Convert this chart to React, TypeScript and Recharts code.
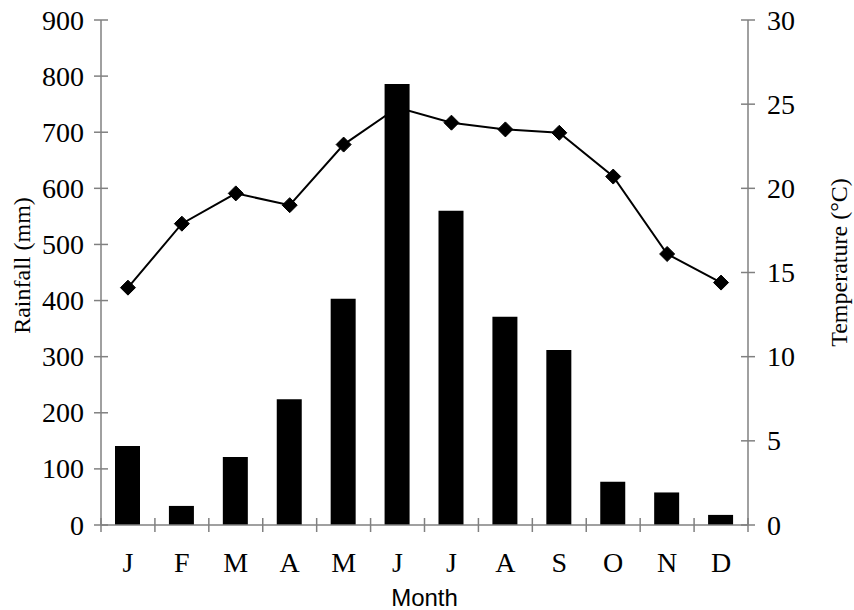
import React from 'react';
import { ComposedChart, Bar, Line, XAxis, YAxis, Label } from 'recharts';

const months = ['J', 'F', 'M', 'A', 'M', 'J', 'J', 'A', 'S', 'O', 'N', 'D'];
const rainfall = [141, 34, 121, 224, 403, 786, 560, 371, 312, 77, 58, 18];
const temperature = [14.1, 17.9, 19.7, 19.0, 22.6, 24.8, 23.9, 23.5, 23.3, 20.7, 16.1, 14.4];
const rainTicks = [0, 100, 200, 300, 400, 500, 600, 700, 800, 900];
const tempTicks = [0, 5, 10, 15, 20, 25, 30];

const data = months.map((m, i) => ({ key: i, month: m, rain: rainfall[i], temp: temperature[i] }));

const AXIS = '#808080';
const SERIF = '"Liberation Serif", "Times New Roman", serif';
const SANS = '"Liberation Sans", Arial, sans-serif';

const LeftTick = (props: any) => {
  const { x, y, payload } = props;
  return (
    <g>
      <line x1={x - 7} x2={x + 7} y1={y} y2={y} stroke={AXIS} strokeWidth={1.5} />
      <text x={x - 17} y={y} dy={9.5} textAnchor="end" fontFamily={SERIF} fontSize={28} fill="#000">
        {payload.value}
      </text>
    </g>
  );
};

const RightTick = (props: any) => {
  const { x, y, payload } = props;
  return (
    <g>
      <line x1={x - 7} x2={x + 7} y1={y} y2={y} stroke={AXIS} strokeWidth={1.5} />
      <text x={x + 19} y={y} dy={9.5} textAnchor="start" fontFamily={SERIF} fontSize={28} fill="#000">
        {payload.value}
      </text>
    </g>
  );
};

const MonthTick = (props: any) => {
  const { x, y, payload, index } = props;
  const off = payload && typeof payload.offset === 'number' ? payload.offset : 0;
  return (
    <g>
      <line x1={x - off} x2={x - off} y1={y - 7} y2={y + 7} stroke={AXIS} strokeWidth={1.5} />
      {index === months.length - 1 ? (
        <line x1={x + off} x2={x + off} y1={y - 7} y2={y + 7} stroke={AXIS} strokeWidth={1.5} />
      ) : null}
      <text x={x} y={y + 47} textAnchor="middle" fontFamily={SERIF} fontSize={28} fill="#000">
        {months[payload.value]}
      </text>
    </g>
  );
};

const Diamond = (props: any) => {
  const { cx, cy } = props;
  if (cx == null || cy == null) return null;
  const r = 7.5;
  return (
    <polygon
      points={`${cx},${cy - r} ${cx + r},${cy} ${cx},${cy + r} ${cx - r},${cy}`}
      fill="#000"
      stroke="#000"
    />
  );
};

export default function App() {
  return (
    <div style={{ position: 'absolute', left: 0, top: 0, background: '#fff' }}>
      <ComposedChart
        width={854}
        height={610}
        data={data}
        margin={{ top: 20, right: 0, bottom: 0, left: 0 }}
      >
        <XAxis
          dataKey="key"
          type="category"
          height={85}
          tickLine={false}
          tickSize={0}
          tickMargin={0}
          axisLine={{ stroke: AXIS, strokeWidth: 1.5 }}
          tick={<MonthTick />}
          interval={0}
        >
          <Label
            value="Month"
            position="insideBottom"
            offset={4}
            style={{ fontFamily: SANS, fontSize: 24, fill: '#000' }}
          />
        </XAxis>
        <YAxis
          yAxisId="left"
          orientation="left"
          width={101}
          domain={[0, 900]}
          ticks={rainTicks}
          interval={0}
          tickLine={false}
          tickSize={0}
          tickMargin={0}
          axisLine={{ stroke: AXIS, strokeWidth: 1.5 }}
          tick={<LeftTick />}
        >
          <Label
            content={(p: any) => {
              const vb = p.viewBox || { x: 0, y: 20, width: 101, height: 505 };
              const cx = 30;
              const cy = vb.y + vb.height / 2 - 7;
              return (
                <text
                  x={cx}
                  y={cy}
                  transform={`rotate(-90, ${cx}, ${cy})`}
                  textAnchor="middle"
                  fontFamily={SERIF}
                  fontSize={24}
                  fill="#000"
                >
                  Rainfall (mm)
                </text>
              );
            }}
          />
        </YAxis>
        <YAxis
          yAxisId="right"
          orientation="right"
          width={106}
          domain={[0, 30]}
          ticks={tempTicks}
          interval={0}
          tickLine={false}
          tickSize={0}
          tickMargin={0}
          axisLine={{ stroke: AXIS, strokeWidth: 1.5 }}
          tick={<RightTick />}
        >
          <Label
            content={(p: any) => {
              const vb = p.viewBox || { x: 748, y: 20, width: 106, height: 505 };
              const cx = 847;
              const cy = vb.y + vb.height / 2 - 10;
              return (
                <text
                  x={cx}
                  y={cy}
                  transform={`rotate(-90, ${cx}, ${cy})`}
                  textAnchor="middle"
                  fontFamily={SERIF}
                  fontSize={24}
                  fill="#000"
                >
                  Temperature (°C)
                </text>
              );
            }}
          />
        </YAxis>
        <Line
          yAxisId="right"
          dataKey="temp"
          stroke="#000"
          strokeWidth={2}
          dot={<Diamond />}
          activeDot={false}
          isAnimationActive={false}
        />
        <Bar
          yAxisId="left"
          dataKey="rain"
          fill="#000"
          barSize={25}
          isAnimationActive={false}
        />
      </ComposedChart>
    </div>
  );
}
